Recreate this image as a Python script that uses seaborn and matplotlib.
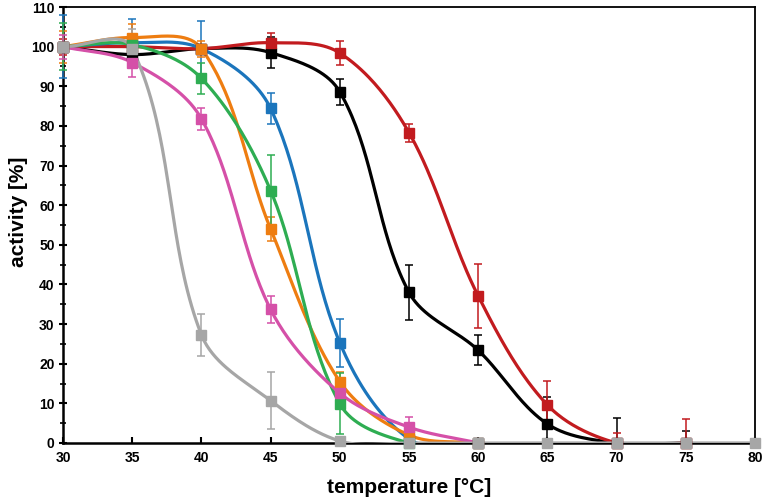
import numpy as np
import pandas as pd
import matplotlib
matplotlib.use("Agg")
import matplotlib.pyplot as plt
import seaborn as sns

sns.set_theme(style="white")
plt.rcParams['font.family'] = ['Liberation Sans', 'DejaVu Sans']
plt.rcParams['text.color'] = 'black'
plt.rcParams['axes.labelcolor'] = 'black'
plt.rcParams['xtick.color'] = 'black'
plt.rcParams['ytick.color'] = 'black'

# ---- data ----
temps_black = [30, 35, 40, 45, 50, 55, 60, 65, 70, 75]
black = [100, 98, 99.5, 98.5, 88.6, 38, 23.4, 4.8, 0, 0]
black_err = [1, 1, 1, 4, 3.2, 7, 3.8, 6.9, 6.3, 3]

temps_red = [30, 35, 40, 45, 50, 55, 60, 65, 70, 75]
red = [100, 100, 99.5, 101, 98.4, 78.3, 37.1, 9.6, 0, 0]
red_err = [2, 1, 1, 2.5, 3, 2.3, 8, 6, 2.5, 6]

temps_short = [30, 35, 40, 45, 50, 55, 60]
blue = [100, 101, 99.5, 84.4, 25.3, 1, 0]
blue_err = [8, 6, 7, 4, 6, 2, 0.5]
orange = [100, 102.3, 99.5, 54, 15.5, 2, 0]
orange_err = [4, 3.5, 2, 3, 2.3, 1, 1]
green = [100, 100.5, 92, 63.7, 9.9, 0, 0]
green_err = [6, 1, 4, 9, 7.7, 0.5, 0.5]
magenta = [100, 96, 81.8, 33.7, 12.6, 4, 0]
magenta_err = [3, 3.6, 2.7, 3.3, 2, 2.6, 0.5]

temps_gray = [30, 35, 40, 45, 50, 55, 60, 65, 70, 75, 80]
gray = [100, 99.5, 27.3, 10.7, 0.5, 0, 0, 0, 0, 0, 0]
gray_err = [1, 5, 5.3, 7.2, 0.5, 0, 0, 0, 0, 0, 0]

xticks = [30, 35, 40, 45, 50, 55, 60, 65, 70, 75, 80]
yticks = [0, 10, 20, 30, 40, 50, 60, 70, 80, 90, 100, 110]

series = [
    ("black", temps_black, black, black_err, "#000000"),
    ("red", temps_red, red, red_err, "#C21B1F"),
    ("blue", temps_short, blue, blue_err, "#1B75BC"),
    ("orange", temps_short, orange, orange_err, "#EE7D11"),
    ("green", temps_short, green, green_err, "#2EAD52"),
    ("magenta", temps_short, magenta, magenta_err, "#D550A8"),
    ("gray", temps_gray, gray, gray_err, "#A6A6A6"),
]

# approximate screen scale (px per data unit) used for the smoothing geometry
SX, SY = 13.84, 3.96


def smooth(x, y, n=40):
    """Excel-like smoothed line: cubic Bezier segments whose control points
    follow the neighbour chord, scaled by the segment length (screen space)."""
    P = np.column_stack([np.asarray(x, float) * SX, np.asarray(y, float) * SY])
    m = len(P)
    tang = []
    for i in range(m):
        a = P[i - 1] if i > 0 else P[i]
        b = P[i + 1] if i < m - 1 else P[i]
        d = b - a
        L = np.hypot(*d)
        tang.append(d / L if L > 0 else np.zeros(2))
    t = np.linspace(0, 1, n)
    out = []
    for i in range(m - 1):
        p1, p2 = P[i], P[i + 1]
        L = np.hypot(*(p2 - p1))
        c1 = p1 + tang[i] * L / 3.0
        c2 = p2 - tang[i + 1] * L / 3.0
        seg = ((1 - t) ** 3)[:, None] * p1 + (3 * (1 - t) ** 2 * t)[:, None] * c1 \
            + (3 * (1 - t) * t ** 2)[:, None] * c2 + (t ** 3)[:, None] * p2
        out.append(seg if i == 0 else seg[1:])
    S = np.vstack(out)
    return S[:, 0] / SX, S[:, 1] / SY


fig = plt.figure(figsize=(7.63, 5.03), dpi=100)
ax = fig.add_axes([0.0826, 0.1193, 0.9069, 0.8667])

for name, xs, ys, es, col in series:
    sx, sy = smooth(xs, ys)
    df = pd.DataFrame({"x": sx, "y": sy})
    sns.lineplot(data=df, x="x", y="y", ax=ax, color=col, lw=2.3, sort=False,
                 estimator=None, zorder=3)
    lower = [min(e, v) for e, v in zip(es, ys)]
    ax.errorbar(xs, ys, yerr=[lower, es], fmt="s", color=col, markersize=7.5,
                markeredgecolor=col, ecolor=col, elinewidth=1.1, capsize=3,
                capthick=1.1, zorder=4, clip_on=False)

ax.set_xlim(30, 80)
ax.set_ylim(0, 110)
ax.set_xticks(xticks)
ax.set_yticks(yticks)
ax.set_yticks(np.arange(5, 110, 10), minor=True)
ax.set_xticklabels([str(v) for v in xticks], fontsize=10, fontweight="bold")
ax.set_yticklabels([str(v) for v in yticks], fontsize=10, fontweight="bold")
ax.tick_params(axis="y", which="major", direction="inout", length=6, width=1.5,
               color="black", labelcolor="black", left=True, pad=3)
ax.tick_params(axis="y", which="minor", direction="inout", length=4, width=1.2,
               color="black", left=True)
ax.tick_params(axis="x", which="major", direction="in", length=4, width=1.5,
               color="black", labelcolor="black", bottom=True, pad=6)
ax.set_xlabel("temperature [°C]", fontsize=15, fontweight="bold", labelpad=9,
              color="black")
ax.set_ylabel("activity [%]", fontsize=15, fontweight="bold", labelpad=3,
              color="black")
ax.yaxis.set_label_coords(-0.05, 0.53)
for s in ["left", "bottom"]:
    ax.spines[s].set_linewidth(1.8)
    ax.spines[s].set_color("black")
for s in ["top", "right"]:
    ax.spines[s].set_linewidth(1.3)
    ax.spines[s].set_color("black")
ax.grid(False)

fig.savefig("out.png", dpi=100)
